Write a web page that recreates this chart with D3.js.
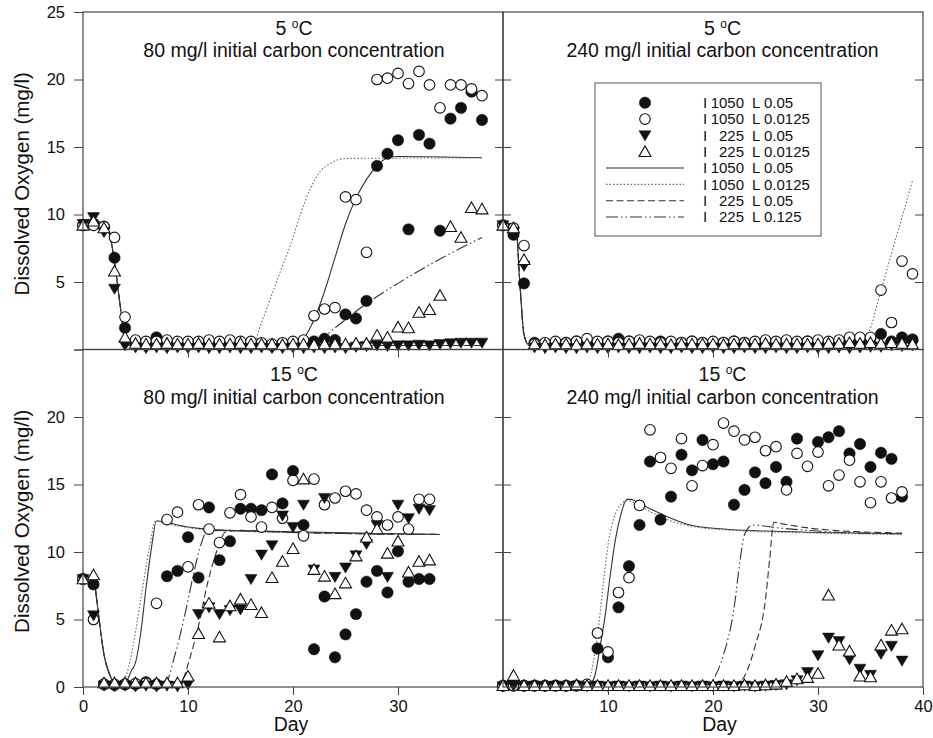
<!DOCTYPE html>
<html>
<head>
<meta charset="utf-8">
<script src="https://cdn.jsdelivr.net/npm/d3@7"></script>
<style>
body { margin: 0; background: #fff; }
svg text { font-family: "Liberation Sans", Arial, sans-serif; fill: #111; }
</style>
</head>
<body>
<script>
// measured dissolved oxygen (mg/l), array index = day

// 5 C, 80 mg/l
var a1050_05   = [9.2, 9.3, 9.1, 6.8, 1.6, 0.6, 0.5, 0.9, 0.6, 0.5, 0.5, 0.5, 0.4, 0.5, 0.5, 0.4, 0.5, 0.4, 0.3, 0.4, 0.5, 0.4, 0.6, 0.8, 0.7, 2.6, 2.3, 3.6, 13.6, 14.5, 15.5, 8.9, 15.9, 15.25, 8.8, 17.1, 17.9, 19.1, 17.0];
var a1050_0125 = [9.2, 9.2, 9.1, 8.3, 2.4, 0.7, 0.6, 0.6, 0.7, 0.6, 0.6, 0.6, 0.7, 0.6, 0.7, 0.6, 0.6, 0.5, 0.4, 0.5, 0.6, 0.7, 2.5, 3.0, 3.1, 11.3, 11.1, 7.2, 20.0, 20.1, 20.45, 19.7, 20.6, 19.6, 17.9, 19.6, 19.6, 19.3, 18.8];
var a225_05    = [9.3, 9.8, 8.7, 4.5, 0.3, 0.15, 0.1, 0.15, 0.1, 0.15, 0.1, 0.15, 0.1, 0.1, 0.15, 0.1, 0.1, 0.15, 0.1, 0.1, 0.15, 0.1, 0.15, 0.1, 0.15, 0.1, 0.2, 0.25, 0.3, 0.25, 0.3, 0.3, 0.35, 0.3, 0.4, 0.45, 0.5, 0.5, 0.5];
var a225_0125  = [9.2, 9.5, 9.0, 5.8, 0.9, 0.45, 0.4, 0.4, 0.45, 0.4, 0.4, 0.45, 0.4, 0.4, 0.4, 0.45, 0.4, 0.4, 0.4, 0.35, 0.4, 0.4, 0.35, 0.4, 0.4, 0.4, 0.45, 0.45, 1.05, 0.9, 1.65, 1.6, 2.75, 2.95, 4.0, 9.1, 8.3, 10.5, 10.4];

// 5 C, 240 mg/l
var b1050_05   = [9.2, 8.5, 4.9, 0.5, 0.4, 0.5, 0.5, 0.6, 0.5, 0.5, 0.6, 0.8, 0.6, 0.5, 0.5, 0.6, 0.5, 0.5, 0.6, 0.5, 0.5, 0.5, 0.6, 0.5, 0.5, 0.6, 0.5, 0.5, 0.5, 0.6, 0.5, 0.5, 0.6, 0.6, 0.7, 0.8, 1.15, 0.6, 0.9, 0.75];
var b1050_0125 = [9.2, 9.0, 7.7, 0.4, 0.5, 0.6, 0.5, 0.6, 0.8, 0.6, 0.6, 0.5, 0.6, 0.7, 0.6, 0.5, 0.6, 0.5, 0.6, 0.5, 0.6, 0.5, 0.6, 0.5, 0.6, 0.7, 0.6, 0.7, 0.6, 0.6, 0.7, 0.6, 0.7, 0.9, 0.9, 0.9, 4.4, 2.0, 6.55, 5.6];
var b225_05    = [9.2, 8.7, 6.2, 0.15, 0.1, 0.15, 0.1, 0.1, 0.15, 0.1, 0.1, 0.15, 0.1, 0.1, 0.15, 0.1, 0.1, 0.15, 0.1, 0.1, 0.15, 0.1, 0.1, 0.15, 0.1, 0.1, 0.15, 0.1, 0.1, 0.15, 0.1, 0.1, 0.15, 0.1, 0.15, 0.2, 0.2, 0.3, 0.25, 0.3];
var b225_0125  = [9.2, 9.0, 6.65, 0.4, 0.35, 0.4, 0.4, 0.35, 0.4, 0.4, 0.4, 0.35, 0.4, 0.45, 0.4, 0.4, 0.35, 0.4, 0.4, 0.4, 0.4, 0.35, 0.4, 0.4, 0.4, 0.45, 0.4, 0.4, 0.4, 0.4, 0.4, 0.45, 0.45, 0.5, 0.45, 0.5, 0.45, 0.5, 0.45, 0.4];

// 15 C, 80 mg/l
var c1050_05   = [8.0, 7.6, 0.2, 0.15, 0.2, 0.2, 0.35, 0.2, 8.2, 8.6, 11.1, 8.1, 13.3, 9.4, 10.8, 13.2, 13.2, 13.1, 15.75, 13.6, 16.0, 12.0, 2.8, 6.7, 2.2, 3.9, 5.4, 7.8, 8.6, 7.0, 10.05, 7.8, 8.0, 8.0];
var c1050_0125 = [8.0, 5.0, 0.2, 0.2, 0.2, 0.25, 0.3, 6.2, 12.4, 12.95, 8.9, 13.5, 11.7, 10.7, 12.9, 14.25, 12.6, 11.85, 13.3, 12.5, 15.3, 11.2, 15.4, 13.5, 14.0, 14.5, 14.3, 13.1, 12.6, 12.0, 12.6, 11.7, 13.9, 13.9];
var c225_05    = [8.0, 5.3, 0.1, 0.05, 0.1, 0.05, 0.1, 0.05, 0.1, 0.05, 0.2, 5.4, 5.9, 5.4, 5.7, 5.75, 8.0, 9.8, 10.5, 12.7, 11.85, 13.5, 8.7, 14.0, 8.15, 8.85, 9.75, 10.6, 12.0, 8.15, 13.5, 12.5, 13.2, 13.1];
var c225_0125  = [8.0, 8.3, 0.3, 0.3, 0.3, 0.3, 0.3, 0.3, 0.3, 0.3, 0.8, 3.95, 6.2, 3.7, 6.0, 6.5, 6.1, 5.5, 8.1, 9.3, 10.25, 15.4, 8.7, 8.2, 6.9, 7.7, 9.7, 11.1, 11.7, 9.9, 10.8, 8.5, 9.3, 9.4];

// 15 C, 240 mg/l
var d1050_05   = [0.1, 0.1, 0.1, 0.1, 0.1, 0.1, 0.1, 0.1, 0.15, 2.85, 2.2, 5.9, 8.95, 12.0, 16.7, 12.4, 14.1, 17.2, 16.05, 18.3, 16.5, 16.7, 13.5, 14.6, 15.9, 15.1, 16.3, 15.2, 18.4, null, 18.15, 18.5, 18.95, 17.3, 18.0, 16.3, 17.35, 16.9, 14.1];
var d1050_0125 = [0.1, 0.1, 0.1, 0.1, 0.1, 0.1, 0.1, 0.1, 0.2, 4.0, 2.6, 7.0, 8.1, 13.45, 19.05, 17.0, 16.2, 18.4, 14.9, 16.4, 17.95, 19.55, 18.95, 18.3, 18.5, 17.5, 17.8, 14.6, 17.3, 16.35, 17.4, 14.9, 15.7, 16.8, 15.2, 13.65, 15.2, 14.0, 14.45];
var d225_05    = [0.05, 0.1, 0.05, 0.1, 0.05, 0.1, 0.05, 0.1, 0.05, 0.1, 0.05, 0.1, 0.05, 0.1, 0.05, 0.1, 0.05, 0.1, 0.05, 0.1, 0.05, 0.1, 0.05, 0.1, 0.05, 0.1, 0.15, 0.2, 0.5, 1.1, 2.35, 3.65, 3.4, 2.05, 1.35, 0.9, 2.45, 3.05, 1.95];
var d225_0125  = [0.1, 0.85, 0.1, 0.1, 0.1, 0.1, 0.1, 0.15, 0.1, 0.1, 0.1, 0.1, 0.1, 0.1, 0.1, 0.1, 0.1, 0.1, 0.1, 0.1, 0.1, 0.1, 0.1, 0.15, 0.1, 0.15, 0.2, 0.4, 0.6, 0.7, 1.0, 6.8, 3.1, 2.65, 0.8, 0.75, 3.1, 4.2, 4.3];

// model curves [day, mg/l]
var aMod1050_05   = [[0,9.3],[1,9.7],[2,9.1],[2.5,8.6],[3,6.5],[3.5,3.5],[4,0.8],[4.5,0.3],[20.3,0.3],[21,0.8],[22,2.2],[23,4.3],[24,6.8],[25,9.3],[26,11.2],[27,12.6],[28,13.6],[29,14.2],[30,14.3],[38,14.2]];
var aMod1050_0125 = [[0,9.3],[1,9.7],[2,9.1],[2.5,8.6],[3,6.5],[3.5,3.5],[4,0.8],[4.5,0.4],[16.2,0.5],[17,2.0],[18,4.1],[19,6.2],[19.75,7.7],[20.7,10.0],[21.7,12.0],[22.6,13.2],[23.6,13.8],[25,14.15],[38,14.2]];
var aMod225_05    = [[0,9.3],[1,9.7],[2,9.1],[2.5,8.6],[3,6.5],[3.5,3.5],[4,0.8],[4.5,0.3],[38,0.3]];
var aMod225_0125  = [[0,9.3],[1,9.7],[2,9.1],[2.5,8.6],[3,6.5],[3.5,3.5],[4,0.8],[4.5,0.3],[21,0.3],[22.5,0.7],[24,1.6],[27,3.4],[30,4.9],[34,6.7],[38,8.3]];

var bMod1050_05   = [[0,9.3],[1.2,9.3],[1.6,5.0],[2,1.1],[2.5,0.3],[39,0.3]];
var bMod1050_0125 = [[0,9.3],[1.2,9.3],[1.6,5.0],[2,1.1],[2.5,0.3],[33.5,0.35],[34.6,0.9],[36,4.4],[37,7.1],[38,9.8],[39,12.5]];
var bMod225_05    = [[0,9.3],[1.2,9.3],[1.6,5.0],[2,1.1],[2.5,0.3],[39,0.3]];
var bMod225_0125  = [[0,9.3],[1.2,9.3],[1.6,5.0],[2,1.1],[2.5,0.3],[39,0.3]];

var cMod1050_05   = [[0,8.0],[1,8.1],[1.3,6.5],[1.7,4.0],[2,2.4],[2.5,1.0],[3,0.3],[4,0.3],[4.6,1.2],[5,1.8],[5.5,4.0],[6,7.3],[6.5,10.2],[7,12.3],[8,12.2],[9,12.0],[11,11.75],[14,11.6],[20,11.5],[34,11.3]];
var cMod1050_0125 = [[0,8.0],[1,8.1],[1.3,6.5],[1.7,4.0],[2,2.4],[2.5,1.0],[3,0.3],[3.8,0.4],[4.5,2.0],[5.5,6.5],[6.3,10.2],[6.9,12.3],[8,12.1],[10,11.8],[14,11.55],[34,11.3]];
var cMod225_05    = [[0,8.0],[1,8.1],[1.3,6.5],[1.7,4.0],[2,2.4],[2.5,1.0],[3,0.3],[9.3,0.4],[10.2,2.2],[10.9,4.2],[11.9,7.8],[12.9,10.4],[13.6,11.5],[15,11.6],[20,11.45],[34,11.3]];
var cMod225_0125  = [[0,8.0],[1,8.1],[1.3,6.5],[1.7,4.0],[2,2.4],[2.5,1.0],[3,0.3],[7.8,0.25],[8.8,2.5],[9.6,5.0],[10.4,7.9],[11.1,10.2],[11.8,11.5],[13,11.6],[20,11.45],[34,11.3]];

var dMod1050_05   = [[0,0.1],[8,0.15],[8.5,0.4],[8.8,1.0],[9.2,2.8],[9.75,5.4],[10.2,8.2],[10.7,10.9],[11.2,12.7],[11.8,13.9],[12.2,13.9],[13,13.6],[14,13.2],[15,12.85],[16,12.5],[17.8,12.0],[21,11.7],[25,11.55],[30,11.45],[38,11.35]];
var dMod1050_0125 = [[0,0.1],[7.6,0.2],[8.2,0.6],[8.6,1.8],[9.1,4.5],[9.6,8.0],[10.1,11.0],[10.6,12.6],[11.2,13.5],[11.9,13.8],[13,13.4],[14,13.0],[16,12.3],[18,11.9],[22,11.6],[30,11.4],[38,11.3]];
var dMod225_05    = [[0,0.1],[22.3,0.2],[23,0.8],[24,3.0],[25,6.5],[25.4,9.5],[25.8,12.2],[26.5,12.1],[30,11.7],[38,11.4]];
var dMod225_0125  = [[0,0.1],[19.6,0.2],[20.2,0.8],[21,2.4],[22,5.8],[22.6,9.5],[23,11.3],[23.8,12.0],[26,11.8],[30,11.55],[38,11.35]];

var panelTemps   = ["5", "5", "15", "15"];
var panelCarbon  = ["80", "240", "80", "240"];
var yTicks       = [0, 5, 10, 15, 20, 25];
var xTicksLeft   = [0, 10, 20, 30];
var xTicksRight  = [10, 20, 30, 40];
var legendI      = ["1050", "1050", "225", "225", "1050", "1050", "225", "225"];
var legendL      = ["0.05", "0.0125", "0.05", "0.0125", "0.05", "0.0125", "0.05", "0.125"];

var panels = [
    {col: 0, row: 0, obs: [a1050_05, a1050_0125, a225_05, a225_0125], mod: [aMod1050_05, aMod1050_0125, aMod225_05, aMod225_0125]},
    {col: 1, row: 0, obs: [b1050_05, b1050_0125, b225_05, b225_0125], mod: [bMod1050_05, bMod1050_0125, bMod225_05, bMod225_0125]},
    {col: 0, row: 1, obs: [c1050_05, c1050_0125, c225_05, c225_0125], mod: [cMod1050_05, cMod1050_0125, cMod225_05, cMod225_0125]},
    {col: 1, row: 1, obs: [d1050_05, d1050_0125, d225_05, d225_0125], mod: [dMod1050_05, dMod1050_0125, dMod225_05, dMod225_0125]}
];

var width = 933, height = 738;
var colX = [83, 503], rowY = [12, 349.5], pw = 420, ph = 337.5;
var titleCx = [294, 722.5];
var titleDy = [[22.5, 45], [31, 54]];

// marker shapes: filled circle, open circle, filled down triangle, open up triangle
var markerPath = [
    d3.symbol(d3.symbolCircle, Math.PI * 5.7 * 5.7)(),
    d3.symbol(d3.symbolCircle, Math.PI * 5.3 * 5.3)(),
    "M-6,-4.6L6,-4.6L0,5.6Z",
    "M0,-5.8L6,4.8L-6,4.8Z"
];
var markerFill = ["#111", "#fff", "#111", "#fff"];
var markerStroke = ["#111", "#111", "#111", "#111"];
var markerSW = [0.5, 1.1, 0.5, 1.1];

var lineDash = [null, "1.5,2", "7,3.5", "12,3,1.5,3,1.5,3"];
var lineColor = ["#333", "#666", "#333", "#333"];

var svg = d3.select("body").append("svg")
    .attr("width", width)
    .attr("height", height);

function styleAxis(g, fs) {
    g.select(".domain").remove();
    g.selectAll(".tick line").attr("stroke", "#444").attr("stroke-width", 1);
    g.attr("font-family", null).attr("font-size", fs);
}

panels.forEach(function (p, pi) {
    var x = d3.scaleLinear().domain([0, 40]).range([colX[p.col], colX[p.col] + pw]);
    var y = d3.scaleLinear().domain([0, 25]).range([rowY[p.row] + ph, rowY[p.row]]);
    var g = svg.append("g");

    // model lines
    var line = d3.line()
        .x(function (d) { return x(d[0]); })
        .y(function (d) { return y(d[1]); })
        .curve(d3.curveMonotoneX);
    p.mod.forEach(function (m, i) {
        g.append("path")
            .attr("d", line(m))
            .attr("fill", "none")
            .attr("stroke", lineColor[i])
            .attr("stroke-width", 1.1)
            .attr("stroke-dasharray", lineDash[i]);
    });

    // observations
    p.obs.forEach(function (s, i) {
        var pts = s.map(function (v, day) { return [day, v]; })
            .filter(function (d) { return d[1] !== null; });
        g.selectAll(null)
            .data(pts)
            .enter()
            .append("path")
            .attr("transform", function (d) { return "translate(" + x(d[0]) + "," + y(d[1]) + ")"; })
            .attr("d", markerPath[i])
            .attr("fill", markerFill[i])
            .attr("stroke", markerStroke[i])
            .attr("stroke-width", markerSW[i]);
    });

    // frame
    g.append("rect")
        .attr("x", colX[p.col]).attr("y", rowY[p.row])
        .attr("width", pw).attr("height", ph)
        .attr("fill", "none").attr("stroke", "#444").attr("stroke-width", 1.2);

    // y ticks
    if (p.col === 0) {
        g.append("g")
            .attr("transform", "translate(" + colX[0] + ",0)")
            .call(d3.axisLeft(y).tickValues(yTicks).tickSize(9).tickPadding(9)
                .tickFormat(function (d) {
                    if (p.row === 0 && d === 0) return "";
                    if (p.row === 1 && d === 25) return "";
                    return d;
                }))
            .call(styleAxis, 16.5);
        g.append("g")
            .attr("transform", "translate(" + (colX[0] + pw) + ",0)")
            .call(d3.axisRight(y).tickValues([5, 10, 15, 20]).tickSize(-8).tickFormat(""))
            .call(styleAxis, 10);
    } else {
        g.append("g")
            .attr("transform", "translate(" + colX[1] + ",0)")
            .call(d3.axisLeft(y).tickValues([5, 10, 15, 20]).tickSize(-8).tickFormat(""))
            .call(styleAxis, 10);
        g.append("g")
            .attr("transform", "translate(" + (colX[1] + pw) + ",0)")
            .call(d3.axisRight(y).tickValues([5, 10, 15, 20]).tickSize(-8).tickFormat(""))
            .call(styleAxis, 10);
    }

    // x ticks
    if (p.row === 1) {
        g.append("g")
            .attr("transform", "translate(0," + (rowY[1] + ph) + ")")
            .call(d3.axisBottom(x).tickValues(p.col === 0 ? xTicksLeft : xTicksRight).tickSize(8).tickPadding(5))
            .call(styleAxis, 16.5);
        g.append("text")
            .attr("x", titleCx[p.col] - 3)
            .attr("y", 731)
            .attr("text-anchor", "middle")
            .attr("font-size", 19.5)
            .text("Day");
    } else {
        g.append("g")
            .attr("transform", "translate(0," + (rowY[0] + ph) + ")")
            .call(d3.axisBottom(x).tickValues([10, 20, 30]).tickSize(8).tickFormat(""))
            .call(styleAxis, 10);
    }

    // panel titles
    var t1 = g.append("text")
        .attr("x", titleCx[p.col])
        .attr("y", rowY[p.row] + titleDy[p.row][0])
        .attr("text-anchor", "middle")
        .attr("font-size", 19.5);
    t1.append("tspan").text(panelTemps[pi] + " ");
    t1.append("tspan").attr("font-size", 12).attr("dy", -7).text("o");
    t1.append("tspan").attr("dy", 7).text("C");
    g.append("text")
        .attr("x", titleCx[p.col])
        .attr("y", rowY[p.row] + titleDy[p.row][1])
        .attr("text-anchor", "middle")
        .attr("font-size", 19.5)
        .text(panelCarbon[pi] + " mg/l initial carbon concentration");

    if (p.col === 0) {
        g.append("text")
            .attr("transform", "translate(29," + (rowY[p.row] + ph / 2 + 3) + ")rotate(-90)")
            .attr("text-anchor", "middle")
            .attr("font-size", 20.5)
            .text("Dissolved Oxygen (mg/l)");
    }
});

// legend
var lg = svg.append("g");
lg.append("rect")
    .attr("x", 595).attr("y", 83).attr("width", 226).attr("height", 153)
    .attr("fill", "#fff").attr("stroke", "#555").attr("stroke-width", 1);
legendI.forEach(function (iv, i) {
    var ry = 102.7 + i * 16.33;
    if (i < 4) {
        lg.append("path")
            .attr("transform", "translate(645," + ry + ")")
            .attr("d", markerPath[i])
            .attr("fill", markerFill[i])
            .attr("stroke", markerStroke[i])
            .attr("stroke-width", markerSW[i]);
    } else {
        lg.append("line")
            .attr("x1", 606).attr("x2", 684).attr("y1", ry).attr("y2", ry)
            .attr("stroke", lineColor[i - 4])
            .attr("stroke-width", 1.1)
            .attr("stroke-dasharray", lineDash[i - 4]);
    }
    lg.append("text").attr("x", 703).attr("y", ry).attr("dy", "0.36em").attr("font-size", 15).text("I");
    lg.append("text").attr("x", 744).attr("y", ry).attr("dy", "0.36em").attr("font-size", 15).attr("text-anchor", "end").text(iv);
    lg.append("text").attr("x", 752).attr("y", ry).attr("dy", "0.36em").attr("font-size", 15).text("L " + legendL[i]);
});
</script>
</body>
</html>
